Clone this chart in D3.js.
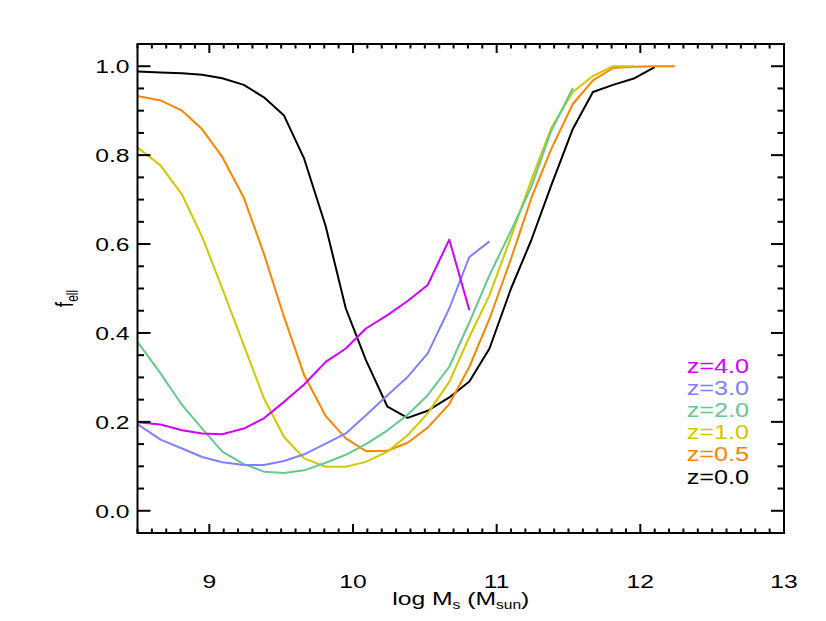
<!DOCTYPE html>
<html>
<head>
<meta charset="utf-8">
<script src="https://cdn.jsdelivr.net/npm/d3@7"></script>
<style>
  html, body { margin: 0; padding: 0; background: #fff; }
  svg text { font-family: "Liberation Sans", Arial, Helvetica, sans-serif; }
</style>
</head>
<body>
<svg id="chart" width="826" height="621"></svg>
<script>
// ---- data ----
const logMass = [8.50, 8.66, 8.81, 8.95, 9.09, 9.24, 9.38, 9.52, 9.66, 9.81, 9.95,
                 10.09, 10.24, 10.38, 10.52, 10.67, 10.81, 10.95, 11.10, 11.24, 11.38,
                 11.53, 11.67, 11.81, 11.96, 12.10, 12.24];

const fZ0p0 = [0.988, 0.986, 0.984, 0.981, 0.973, 0.958, 0.930, 0.889, 0.792, 0.640, 0.455,
               0.339, 0.234, 0.209, 0.225, 0.255, 0.291, 0.365, 0.500, 0.608, 0.732,
               0.859, 0.942, 0.958, 0.973, 0.998];
const fZ0p5 = [0.933, 0.923, 0.900, 0.858, 0.796, 0.704, 0.578, 0.436, 0.305, 0.213, 0.163,
               0.134, 0.135, 0.153, 0.187, 0.240, 0.324, 0.432, 0.567, 0.702, 0.814,
               0.915, 0.968, 0.996, 0.999, 1.000, 1.000];
const fZ1p0 = [0.817, 0.777, 0.711, 0.616, 0.500, 0.372, 0.253, 0.166, 0.118, 0.099, 0.099,
               0.110, 0.133, 0.170, 0.219, 0.290, 0.391, 0.485, 0.616, 0.743, 0.861,
               0.942, 0.978, 1.000, 1.000];
const fZ2p0 = [0.380, 0.309, 0.238, 0.185, 0.133, 0.105, 0.088, 0.085, 0.091, 0.108, 0.126,
               0.150, 0.181, 0.216, 0.260, 0.324, 0.424, 0.530, 0.630, 0.728, 0.855,
               0.951];
const fZ3p0 = [0.195, 0.160, 0.140, 0.121, 0.109, 0.103, 0.103, 0.112, 0.127, 0.151, 0.174,
               0.215, 0.260, 0.301, 0.354, 0.455, 0.571, 0.606];
const fZ4p0 = [0.199, 0.194, 0.181, 0.174, 0.172, 0.185, 0.208, 0.245, 0.284, 0.335, 0.365,
               0.410, 0.440, 0.472, 0.508, 0.610, 0.451];

const seriesLabels = ["z=4.0", "z=3.0", "z=2.0", "z=1.0", "z=0.5", "z=0.0"];
const seriesValues = [fZ4p0, fZ3p0, fZ2p0, fZ1p0, fZ0p5, fZ0p0];
const seriesColors = ["#d200ff", "#8080ff", "#66c88c", "#d2c800", "#ff8400", "#000000"];

const xTickValues = [9, 10, 11, 12, 13];
const yTickValues = [0.0, 0.2, 0.4, 0.6, 0.8, 1.0];

// ---- layout ----
const svg = d3.select("#chart");
const pL = 137.5, pR = 784, pT = 44, pB = 533;
const x = d3.scaleLinear().domain([8.5, 13]).range([pL, pR]);
const y = d3.scaleLinear().domain([-0.05, 1.05]).range([pB, pT]);

const sx = 1.3; // horizontal stretch of the text, as in the reference

// clip
svg.append("clipPath").attr("id", "clip")
  .append("rect").attr("x", pL).attr("y", pT)
  .attr("width", pR - pL).attr("height", pB - pT);

// lines (drawn from z=0.0 up to z=4.0)
const line = d3.line().x(d => x(d[0])).y(d => y(d[1]));
const plot = svg.append("g").attr("clip-path", "url(#clip)");
d3.range(seriesValues.length - 1, -1, -1).forEach(i => {
  const pts = seriesValues[i].map((v, j) => [logMass[j], v]);
  plot.append("path").datum(pts)
    .attr("d", line)
    .attr("fill", "none")
    .attr("stroke", seriesColors[i])
    .attr("stroke-width", 2)
    .attr("stroke-linejoin", "round");
});

// ticks (inward on all four sides)
const xMinor = d3.range(85, 131).map(v => v / 10);
const yMinor = d3.range(-1, 22).map(v => v * 0.05).filter(v => v >= -0.05 && v <= 1.05);
const tg = svg.append("g").attr("stroke", "#000").attr("stroke-width", 2);
xMinor.forEach(v => {
  const isMajor = Math.abs(v - Math.round(v)) < 1e-6;
  const len = isMajor ? 9 : 4.5;
  tg.append("line").attr("x1", x(v)).attr("x2", x(v)).attr("y1", pB).attr("y2", pB - len);
  tg.append("line").attr("x1", x(v)).attr("x2", x(v)).attr("y1", pT).attr("y2", pT + len);
});
yMinor.forEach(v => {
  const isMajor = Math.abs(v * 5 - Math.round(v * 5)) < 1e-6;
  const len = isMajor ? 13 : 6.5;
  tg.append("line").attr("x1", pL).attr("x2", pL + len).attr("y1", y(v)).attr("y2", y(v));
  tg.append("line").attr("x1", pR).attr("x2", pR - len).attr("y1", y(v)).attr("y2", y(v));
});

// frame
svg.append("rect").attr("x", pL).attr("y", pT)
  .attr("width", pR - pL).attr("height", pB - pT)
  .attr("fill", "none").attr("stroke", "#000").attr("stroke-width", 2);

// tick labels
const xAxis = d3.axisBottom(x).tickValues(xTickValues).tickFormat(d3.format("d")).tickSize(0);
const xg = svg.append("g").call(xAxis);
xg.select(".domain").remove();
xg.selectAll(".tick").attr("transform", null);
xg.selectAll("text")
  .attr("x", 0).attr("y", 0).attr("dy", 0)
  .attr("text-anchor", "middle")
  .attr("font-size", 19).attr("fill", "#000")
  .attr("transform", d => `translate(${x(d)},${pB + 55}) scale(${sx},1)`);

const yAxis = d3.axisLeft(y).tickValues(yTickValues).tickFormat(d3.format(".1f")).tickSize(0);
const yg = svg.append("g").call(yAxis);
yg.select(".domain").remove();
yg.selectAll(".tick").attr("transform", null);
yg.selectAll("text")
  .attr("x", 0).attr("dy", 0).attr("y", 0)
  .attr("text-anchor", "end")
  .attr("font-size", 19).attr("fill", "#000")
  .attr("transform", d => `translate(${pL - 8},${y(d) + 6.8}) scale(${sx},1)`);

// axis titles
const xt = svg.append("text")
  .attr("text-anchor", "middle").attr("font-size", 19).attr("fill", "#000")
  .attr("transform", `translate(${(pL + pR) / 2},605) scale(${sx},1)`);
xt.append("tspan").text("log M");
xt.append("tspan").text("s").attr("font-size", 12).attr("dy", 4);
xt.append("tspan").text(" (M").attr("dy", -4);
xt.append("tspan").text("sun").attr("font-size", 12).attr("dy", 4);
xt.append("tspan").text(")").attr("dy", -4);

const yt = svg.append("text")
  .attr("text-anchor", "middle").attr("font-size", 19).attr("fill", "#000")
  .attr("transform", `translate(73,${(pT + pB) / 2 + 10}) rotate(-90) scale(1,${sx})`);
yt.append("tspan").text("f");
yt.append("tspan").text("ell").attr("font-size", 12).attr("dy", 4);

// legend
seriesLabels.forEach((lab, i) => {
  svg.append("text")
    .attr("text-anchor", "end")
    .attr("font-size", 21)
    .attr("fill", seriesColors[i])
    .attr("transform", `translate(749,${372.5 + i * 22.2}) scale(1.2,1)`)
    .text(lab);
});
</script>
</body>
</html>
